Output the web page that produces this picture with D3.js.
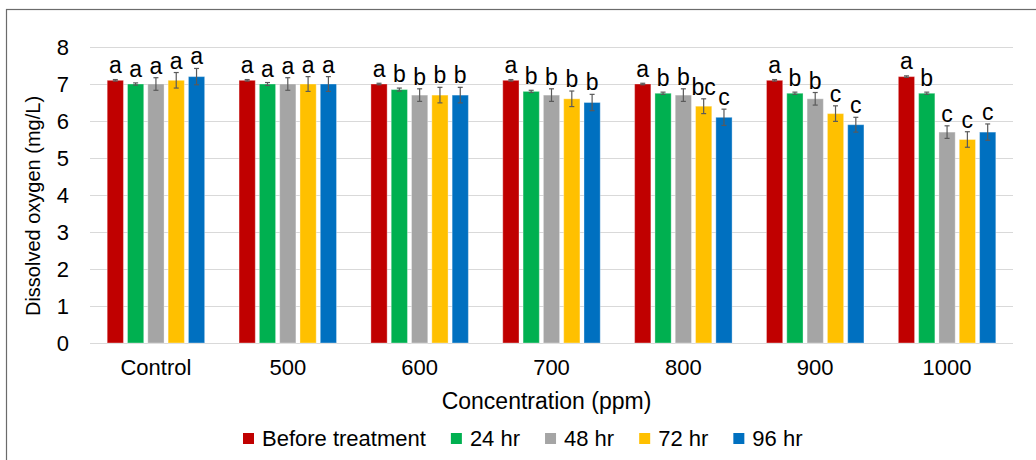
<!DOCTYPE html>
<html>
<head>
<meta charset="utf-8">
<script src="https://cdn.jsdelivr.net/npm/d3@7"></script>
<style>
  body { margin: 0; background: #fff; }
  text { font-family: "Liberation Sans", Arial, sans-serif; fill: #000; }
</style>
</head>
<body>
<div id="chart-area"></div>
<script>
// Data
const categories = ["Control", "500", "600", "700", "800", "900", "1000"]
const series = ["Before treatment", "24 hr", "48 hr", "72 hr", "96 hr"]
const colors = ["#C00000", "#00B050", "#A5A5A5", "#FFC000", "#0070C0"]

const beforeVals = [7.1, 7.1, 7.0, 7.1, 7.0, 7.1, 7.2]
const hr24Vals = [7.0, 7.0, 6.85, 6.8, 6.75, 6.75, 6.75]
const hr48Vals = [7.0, 7.0, 6.7, 6.7, 6.7, 6.6, 5.7]
const hr72Vals = [7.1, 7.0, 6.7, 6.6, 6.4, 6.2, 5.5]
const hr96Vals = [7.2, 7.0, 6.7, 6.5, 6.1, 5.9, 5.7]

const beforeErr = [0.02, 0.02, 0.02, 0.02, 0.02, 0.02, 0.02]
const hr24Err = [0.03, 0.04, 0.04, 0.03, 0.03, 0.03, 0.03]
const hr48Err = [0.17, 0.17, 0.17, 0.17, 0.17, 0.17, 0.17]
const hr72Err = [0.21, 0.2, 0.21, 0.21, 0.2, 0.21, 0.21]
const hr96Err = [0.22, 0.2, 0.21, 0.22, 0.22, 0.2, 0.22]

const beforeLetters = ["a", "a", "a", "a", "a", "a", "a"]
const hr24Letters = ["a", "a", "b", "b", "b", "b", "b"]
const hr48Letters = ["a", "a", "b", "b", "b", "b", "c"]
const hr72Letters = ["a", "a", "b", "b", "bc", "c", "c"]
const hr96Letters = ["a", "a", "b", "b", "c", "c", "c"]

const yTicks = [0, 1, 2, 3, 4, 5, 6, 7, 8]

const allVals = [beforeVals, hr24Vals, hr48Vals, hr72Vals, hr96Vals]
const allErr = [beforeErr, hr24Err, hr48Err, hr72Err, hr96Err]
const allLetters = [beforeLetters, hr24Letters, hr48Letters, hr72Letters, hr96Letters]

// Flatten into rows for the join
const rows = []
categories.forEach((cat, i) => {
	series.forEach((s, j) => {
		rows.push({ cat, s, j, value: allVals[j][i], err: allErr[j][i], letter: allLetters[j][i] })
	})
})

// Set up margins
const W = 1036, H = 460
const MARGINS = { TOP: 47, BOTTOM: 117, LEFT: 90, RIGHT: 23 }
const HEIGHT = H - MARGINS.TOP - MARGINS.BOTTOM
const WIDTH = W - MARGINS.LEFT - MARGINS.RIGHT

const svg = d3.select("#chart-area").append("svg")
	.attr("width", W)
	.attr("height", H)

// outer frame
svg.append("rect")
	.attr("x", 6.5)
	.attr("y", 9.5)
	.attr("width", W + 20)
	.attr("height", H + 20)
	.attr("fill", "none")
	.attr("stroke", "#6b6b6b")
	.attr("stroke-width", 1.2)

const g = svg.append("g")
	.attr("transform", `translate(${MARGINS.LEFT}, ${MARGINS.TOP})`)

// Scales
const x0 = d3.scaleBand()
	.domain(categories)
	.range([0, WIDTH])
	.paddingInner(0.23)
	.paddingOuter(0.115)

const x1 = d3.scaleBand()
	.domain(series)
	.range([0, x0.bandwidth()])
	.paddingInner(0.2)
	.paddingOuter(0.1)

const y = d3.scaleLinear()
	.domain([0, 8])
	.range([HEIGHT, 0])

const color = d3.scaleOrdinal().domain(series).range(colors)

// Gridlines
g.append("g")
	.selectAll("line")
	.data(yTicks)
	.enter().append("line")
	.attr("x1", 0)
	.attr("x2", WIDTH)
	.attr("y1", d => Math.round(y(d)) + 0.5)
	.attr("y2", d => Math.round(y(d)) + 0.5)
	.attr("stroke", "#d9d9d9")
	.attr("stroke-width", 1.2)

// Y axis labels
const yAxisCall = d3.axisLeft(y).tickValues(yTicks).tickSize(0).tickPadding(21)
const yAxis = g.append("g").call(yAxisCall)
yAxis.select(".domain").remove()
yAxis.selectAll("text")
	.attr("font-size", "22px")
	.attr("font-family", "Liberation Sans, Arial, sans-serif")
	.attr("fill", "#000")

// X axis labels
const xAxisCall = d3.axisBottom(x0).tickSize(0).tickPadding(16)
const xAxis = g.append("g")
	.attr("transform", `translate(0, ${HEIGHT})`)
	.call(xAxisCall)
xAxis.select(".domain").remove()
xAxis.selectAll("text")
	.attr("font-size", "22px")
	.attr("font-family", "Liberation Sans, Arial, sans-serif")
	.attr("fill", "#000")

// Bars
const groups = g.selectAll(".bar")
	.data(rows)
	.enter().append("g")
	.attr("class", "bar")
	.attr("transform", d => `translate(${x0(d.cat) + x1(d.s)}, 0)`)

groups.append("rect")
	.attr("x", 0)
	.attr("width", x1.bandwidth())
	.attr("y", d => y(d.value))
	.attr("height", d => y(0) - y(d.value))
	.attr("fill", d => color(d.s))
	.attr("stroke", "#ffffff")
	.attr("stroke-opacity", 0.35)
	.attr("stroke-width", 1)

// Error bars
const cx = x1.bandwidth() / 2
groups.append("line")
	.attr("x1", cx).attr("x2", cx)
	.attr("y1", d => y(d.value + d.err))
	.attr("y2", d => y(d.value - d.err))
	.attr("stroke", "#5a5a5a")
	.attr("stroke-width", 1.2)
groups.append("line")
	.attr("x1", cx - 2.5).attr("x2", cx + 2.5)
	.attr("y1", d => y(d.value + d.err))
	.attr("y2", d => y(d.value + d.err))
	.attr("stroke", "#5a5a5a")
	.attr("stroke-width", 1.2)
groups.append("line")
	.attr("x1", cx - 2.5).attr("x2", cx + 2.5)
	.attr("y1", d => y(d.value - d.err))
	.attr("y2", d => y(d.value - d.err))
	.attr("stroke", "#5a5a5a")
	.attr("stroke-width", 1.2)

// Significance letters
groups.append("text")
	.attr("x", cx)
	.attr("y", d => Math.min(y(d.value) - 7.5, y(d.value + d.err) - 4))
	.attr("text-anchor", "middle")
	.attr("font-size", "23px")
	.text(d => d.letter)

// Axis titles
svg.append("text")
	.attr("x", MARGINS.LEFT + WIDTH / 2 - 5)
	.attr("y", 409)
	.attr("text-anchor", "middle")
	.attr("font-size", "23px")
	.text("Concentration (ppm)")

svg.append("text")
	.attr("transform", "translate(40, 206) rotate(-90)")
	.attr("text-anchor", "middle")
	.attr("font-size", "20px")
	.text("Dissolved oxygen (mg/L)")

// Legend
const legend = svg.append("g").attr("transform", "translate(243, 0)")
let lx = 0
series.forEach((s, i) => {
	const row = legend.append("g").attr("transform", `translate(${lx}, 0)`)
	row.append("rect")
		.attr("x", 0)
		.attr("y", 433)
		.attr("width", 11)
		.attr("height", 11)
		.attr("fill", colors[i])
	const t = row.append("text")
		.attr("x", 19)
		.attr("y", 446)
		.attr("font-size", "22px")
		.text(s)
	lx += 19 + t.node().getComputedTextLength() + 25
})
</script>
</body>
</html>
